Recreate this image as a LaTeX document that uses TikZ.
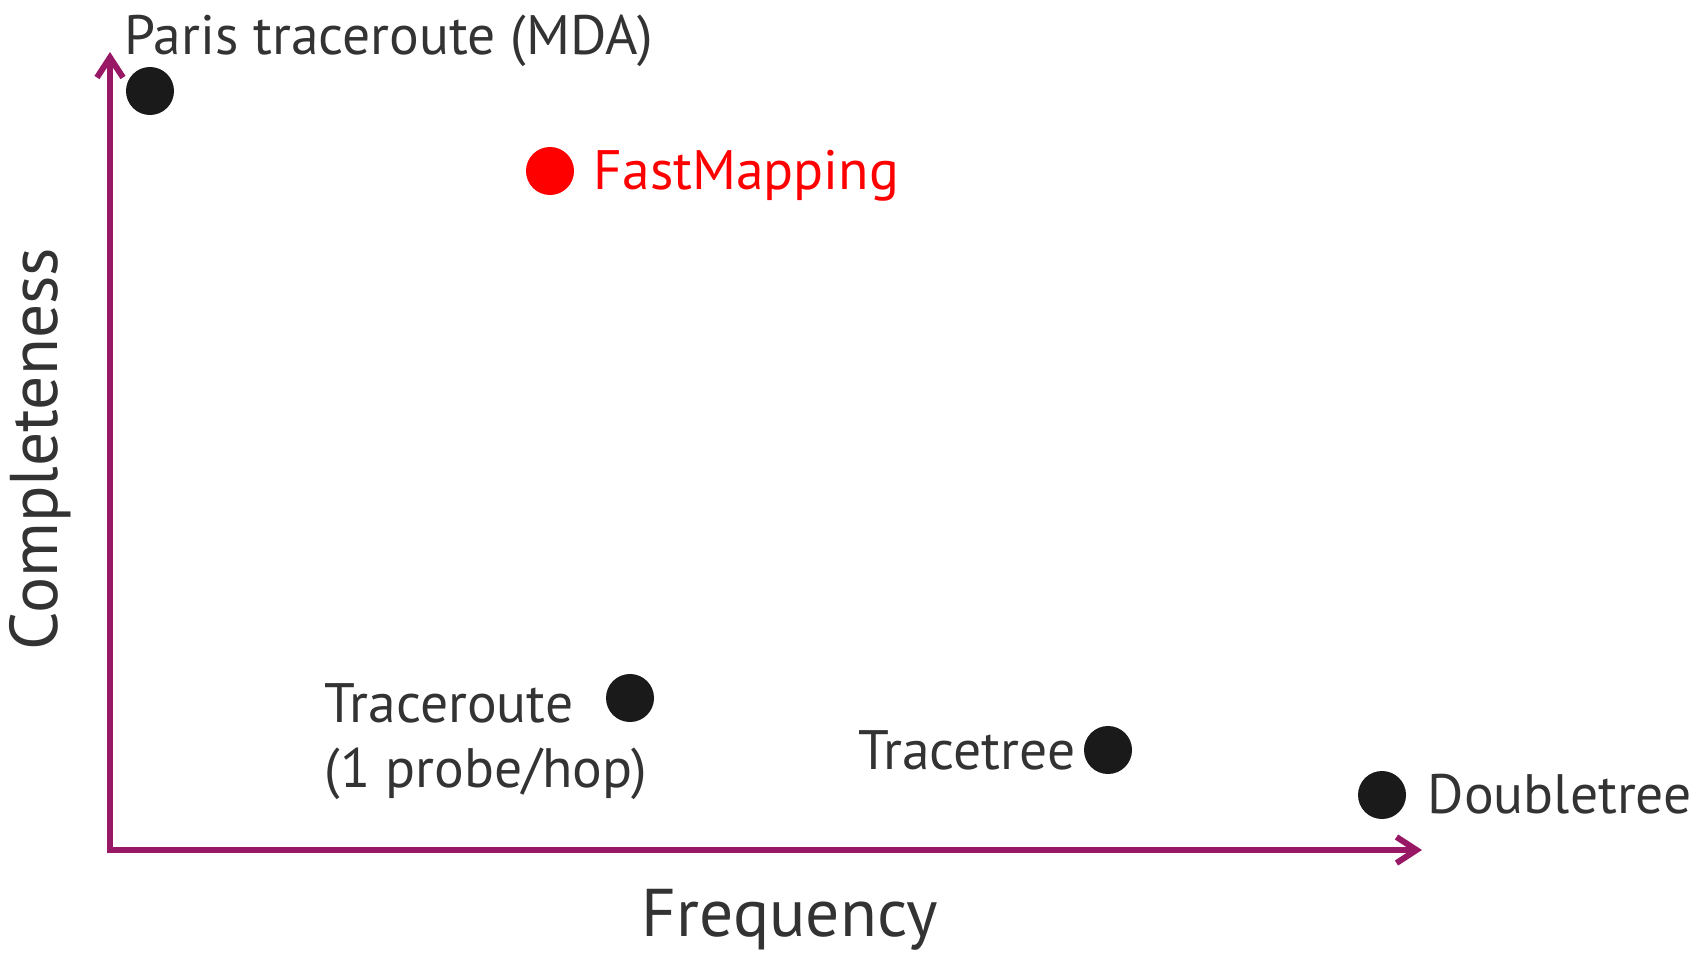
\documentclass[tikz,border=0pt]{standalone}
\usepackage{fontspec}
\setmainfont{PT Sans}
\usetikzlibrary{arrows.meta}
\definecolor{axispurple}{RGB}{152,24,102}
\definecolor{labelgray}{RGB}{51,51,51}
\definecolor{dotblack}{RGB}{26,26,26}
\definecolor{fastred}{RGB}{255,0,0}
\tikzset{
	axis line/.style = 
    {
			draw = axispurple,
			line width = 0.06cm,
			-{Straight Barb[length=0.2cm,width=0.26cm,line width=0.06cm]}
    },
	point/.style = 
    {
			circle, fill = dotblack, minimum size = 0.48cm, inner sep = 0pt
    },
	tool/.style = 
    {
			text = labelgray, inner sep = 0pt,
			font = \fontsize{15.8}{18.4}\selectfont
    },
	axis label/.style = 
    {
			text = labelgray, inner sep = 0pt,
			font = \fontsize{19.2}{22}\selectfont
    }
}

\begin{document}
\begin{tikzpicture}[x=0.01cm,y=-0.01cm]
    \useasboundingbox (0,0) rectangle (1704,952);
    % Axes
    \coordinate (origin) at (110,850);
    \coordinate (ytop) at (110,52);
    \coordinate (xend) at (1422,850);
    \draw [axis line] ([yshift=-0.03cm]origin) to (ytop);
    \draw [axis line] ([xshift=-0.03cm]origin) to (xend);
    \node (completeness) [axis label, rotate=90] at (40,449) {Completeness};
    \node (frequency) [axis label, anchor=base] at (790,936) {Frequency};

    % Tools
    \node (paris) [point] at (150,91) {};
    \node (fastmap) [point, fill=fastred] at (550,171) {};
    \node (traceroute) [point] at (630,698) {};
    \node (tracetree) [point] at (1108,750) {};
    \node (doubletree) [point] at (1382,795) {};

    % Labels
    \node (paris_lbl) [tool, anchor=base west] at (124,55) {Paris traceroute (MDA)};
    \node (fastmap_lbl) [tool, anchor=base west, text=fastred] at (593,190) {FastMapping};
    \node (traceroute_lbl) [tool, anchor=base west, align=left] at (324,787) {Traceroute\\(1 probe/hop)};
    \node (tracetree_lbl) [tool, anchor=base east] at (1076,769) {Tracetree};
    \node (doubletree_lbl) [tool, anchor=base west] at (1427,813) {Doubletree};
\end{tikzpicture}
\end{document}
